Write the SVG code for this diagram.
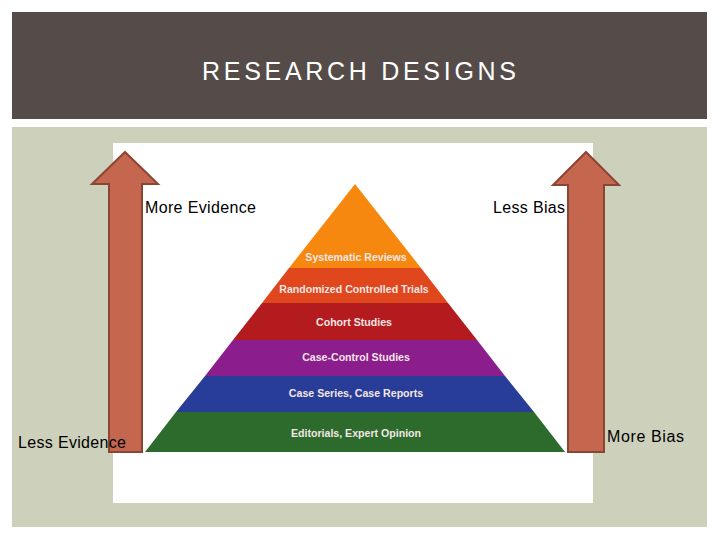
<svg xmlns="http://www.w3.org/2000/svg" width="720" height="540" viewBox="0 0 720 540">
<defs>
<style>
.lbl{font-family:"Liberation Sans",Arial,sans-serif;font-size:16px;fill:#000}
.tier{font-family:"Liberation Sans",Arial,sans-serif;font-size:10.6px;font-weight:bold;fill:#f3e6e6;text-anchor:middle}
.arrow{fill:#c5664e;stroke:#8a4535;stroke-width:2;stroke-linejoin:miter}
</style>
</defs>
<rect width="720" height="540" fill="#ffffff"/>
<g id="header">
<rect x="12" y="12" width="695" height="107" fill="#554c49"/>
<text x="359" y="80" text-anchor="middle" font-family="Liberation Sans, Arial, sans-serif" font-size="25" fill="#ffffff" textLength="314" lengthAdjust="spacing">RESEARCH DESIGNS</text>
</g>
<rect x="12" y="127" width="695" height="400" fill="#cdd0bb"/>
<rect x="113" y="143" width="480" height="360" fill="#ffffff"/>
<g id="connectors">
<path class="arrow" d="M125,152 L158,184 L142,184 L142,452 L109,452 L109,184 L92,184 Z"/>
<path class="arrow" d="M586,152 L619,185 L604,185 L604,452 L568,452 L568,185 L553,185 Z"/>
</g>
<g id="pyramid">
<g id="tier1"><polygon points="355,184 421,268 289,268" fill="#f7880f"/><text class="tier" x="356" y="261">Systematic Reviews</text></g>
<g id="tier2"><polygon points="289,268 421,268 448,303 262,303" fill="#e0471d"/><text class="tier" x="354" y="293">Randomized Controlled Trials</text></g>
<g id="tier3"><polygon points="262,303 448,303 477,340 233,340" fill="#b31b1e"/><text class="tier" x="354" y="326">Cohort Studies</text></g>
<g id="tier4"><polygon points="233,340 477,340 505,376 205,376" fill="#8b1d8c"/><text class="tier" x="356" y="361">Case-Control Studies</text></g>
<g id="tier5"><polygon points="205,376 505,376 534,412 176,412" fill="#283d98"/><text class="tier" x="356" y="397">Case Series, Case Reports</text></g>
<g id="tier6"><polygon points="176,412 534,412 565,452 145,452" fill="#2d6b2c"/><text class="tier" x="356" y="437">Editorials, Expert Opinion</text></g>
</g>
<g id="more-evidence"><text class="lbl" x="145" y="213" textLength="111" lengthAdjust="spacing">More Evidence</text></g>
<g id="less-bias"><text class="lbl" x="493" y="213" textLength="72" lengthAdjust="spacing">Less Bias</text></g>
<g id="less-evidence"><text class="lbl" x="18" y="448" textLength="108" lengthAdjust="spacing">Less Evidence</text></g>
<g id="more-bias"><text class="lbl" x="607" y="442" textLength="77" lengthAdjust="spacing">More Bias</text></g>
</svg>
